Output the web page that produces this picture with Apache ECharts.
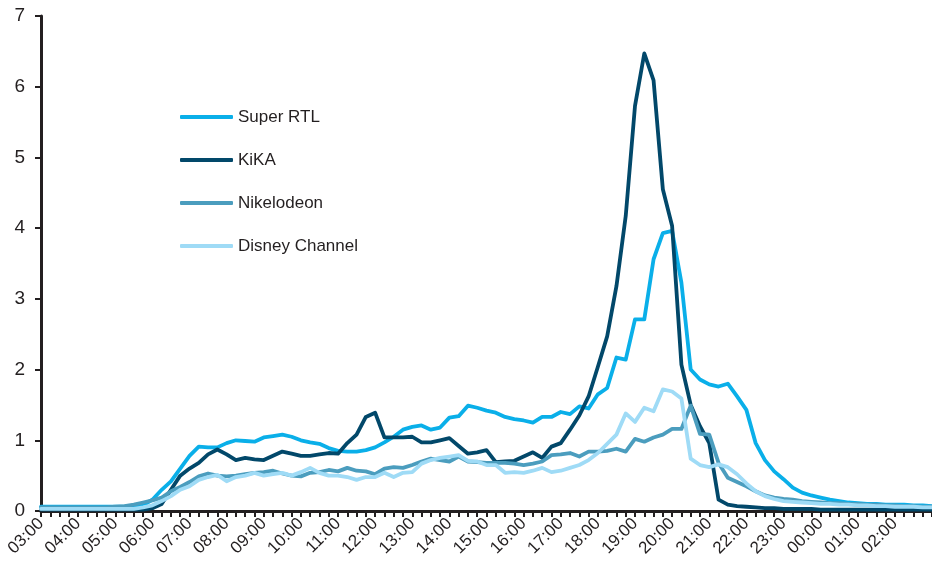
<!DOCTYPE html>
<html>
<head>
<meta charset="utf-8">
<script src="https://cdn.jsdelivr.net/npm/echarts@6/dist/echarts.min.js"></script>
<style>
  html, body { margin: 0; padding: 0; background: #fff; }
  #chart { width: 932px; height: 568px; }
</style>
</head>
<body>
<div id="chart"></div>
<script>
// quarter-hour slots from 03:00 to 03:00 next day
const timeLabels = []
for (let i = 0; i <= 96; i++) {
  const h = (3 + Math.floor(i / 4)) % 24
  const m = (i % 4) * 15
  timeLabels.push(String(h).padStart(2, '0') + ':' + String(m).padStart(2, '0'))
}

const seriesNames = ['Super RTL', 'KiKA', 'Nikelodeon', 'Disney Channel']

const superRtl = [
  0.06, 0.06, 0.06, 0.06, 0.06, 0.06, 0.06, 0.06, 0.06, 0.06, 0.06, 0.08,
  0.16, 0.3, 0.42, 0.6, 0.78, 0.91, 0.9, 0.9, 0.96, 1.0, 0.99, 0.98,
  1.04, 1.06, 1.08, 1.05, 1.0, 0.97, 0.95, 0.89, 0.85, 0.84, 0.84, 0.86,
  0.9, 0.97, 1.05, 1.15, 1.19, 1.21, 1.15, 1.18, 1.32, 1.34, 1.49, 1.46,
  1.42, 1.39, 1.33, 1.3, 1.28, 1.25, 1.33, 1.33, 1.4, 1.37, 1.48, 1.45,
  1.65, 1.74, 2.17, 2.14, 2.71, 2.71, 3.56, 3.93, 3.96, 3.23, 2.0, 1.86,
  1.79, 1.76, 1.8, 1.62, 1.43, 0.96, 0.72, 0.56, 0.45, 0.33, 0.26, 0.22,
  0.19, 0.16, 0.14, 0.12, 0.11, 0.1, 0.1, 0.09, 0.09, 0.09, 0.08, 0.08,
  0.07
]

const kika = [
  0.02, 0.02, 0.02, 0.02, 0.02, 0.02, 0.02, 0.02, 0.02, 0.02, 0.02, 0.02,
  0.04, 0.1, 0.3, 0.5, 0.6, 0.68, 0.8, 0.87, 0.8, 0.72, 0.75, 0.73,
  0.72, 0.78, 0.84, 0.81, 0.78, 0.78, 0.8, 0.82, 0.81, 0.96, 1.08, 1.33,
  1.39, 1.04, 1.04, 1.04, 1.05, 0.97, 0.97, 1.0, 1.03, 0.92, 0.81, 0.83,
  0.86, 0.69, 0.7, 0.71, 0.77, 0.83, 0.75, 0.91, 0.96, 1.15, 1.35, 1.62,
  2.04, 2.47, 3.18, 4.17, 5.73, 6.47, 6.09, 4.55, 4.03, 2.07, 1.5, 1.2,
  0.96, 0.16, 0.09, 0.07, 0.06, 0.05, 0.04, 0.04, 0.03, 0.03, 0.03, 0.03,
  0.02, 0.02, 0.02, 0.02, 0.02, 0.02, 0.02, 0.02, 0.02, 0.02, 0.02, 0.02,
  0.02
]

const nikelodeon = [
  0.05, 0.05, 0.05, 0.05, 0.05, 0.05, 0.05, 0.05, 0.06, 0.07, 0.09, 0.12,
  0.15, 0.19, 0.28, 0.34, 0.41, 0.49, 0.53, 0.5, 0.49, 0.5, 0.52, 0.54,
  0.55, 0.57, 0.53, 0.5, 0.49, 0.54, 0.55, 0.58, 0.56, 0.61, 0.57, 0.56,
  0.52, 0.6, 0.62, 0.61, 0.65, 0.7, 0.74, 0.72, 0.7, 0.77, 0.7, 0.69,
  0.68, 0.68, 0.68, 0.67, 0.65, 0.67, 0.7, 0.79, 0.8, 0.82, 0.77, 0.84,
  0.84, 0.85, 0.88, 0.84, 1.02, 0.98, 1.04, 1.08, 1.16, 1.16, 1.49, 1.09,
  1.08, 0.68, 0.47, 0.41, 0.35, 0.28, 0.22, 0.19, 0.17, 0.16, 0.14, 0.13,
  0.12, 0.11, 0.11, 0.1, 0.1, 0.09, 0.09, 0.08, 0.08, 0.07, 0.07, 0.06,
  0.06
]

const disney = [
  0.03, 0.03, 0.03, 0.03, 0.03, 0.03, 0.03, 0.03, 0.03, 0.03, 0.03, 0.05,
  0.08, 0.14, 0.21, 0.3, 0.35, 0.44, 0.48, 0.51, 0.42, 0.48, 0.5, 0.54,
  0.5, 0.52, 0.54, 0.5, 0.55, 0.61, 0.54, 0.5, 0.5, 0.48, 0.44, 0.48,
  0.48, 0.54, 0.48, 0.54, 0.55, 0.67, 0.72, 0.75, 0.77, 0.79, 0.71, 0.7,
  0.65, 0.65, 0.54, 0.55, 0.54, 0.57, 0.61, 0.55, 0.57, 0.61, 0.65, 0.72,
  0.82, 0.95, 1.08, 1.38, 1.26, 1.46, 1.41, 1.72, 1.69, 1.59, 0.74, 0.65,
  0.62, 0.66, 0.62, 0.52, 0.39, 0.28, 0.21, 0.17, 0.14, 0.13, 0.12, 0.11,
  0.1, 0.1, 0.09, 0.09, 0.08, 0.08, 0.07, 0.07, 0.06, 0.06, 0.06, 0.05,
  0.05
]

const colors = ['#0aafe9', '#02486a', '#4b9dbe', '#9fdbf6']
const font = "'Liberation Sans Narrow', 'Arial Narrow', 'Liberation Sans', Arial, sans-serif"
const ink = '#231f20'

const chart = echarts.init(document.getElementById('chart'), null, { renderer: 'canvas' })

function makeLine(name, data, color) {
  return {
    name: name,
    type: 'line',
    data: data,
    symbol: 'none',
    smooth: false,
    lineStyle: { width: 3.8, color: color, cap: 'round', join: 'round' },
    itemStyle: { color: color }
  }
}

chart.setOption({
  animation: false,
  color: colors,
  grid: { left: 41, right: 0, top: 16, bottom: 57 },
  legend: {
    orient: 'vertical',
    left: 180,
    top: 107,
    padding: 0,
    itemWidth: 53,
    itemHeight: 4,
    itemGap: 23,
    icon: 'roundRect',
    data: seriesNames,
    textStyle: { fontFamily: font, fontSize: 17, color: ink, lineHeight: 20 }
  },
  xAxis: {
    type: 'category',
    boundaryGap: false,
    data: timeLabels,
    axisLine: { lineStyle: { color: ink, width: 3 } },
    axisTick: { show: true, interval: 0, length: 6, lineStyle: { color: ink, width: 2 } },
    axisLabel: {
      interval: (idx) => idx % 4 === 0 && idx < 96,
      rotate: 45,
      margin: 10,
      fontFamily: font,
      fontSize: 17,
      color: ink
    },
    splitLine: { show: false }
  },
  yAxis: {
    type: 'value',
    min: 0,
    max: 7,
    interval: 1,
    axisLine: { show: true, lineStyle: { color: ink, width: 3 } },
    axisTick: { show: true, length: 6, lineStyle: { color: ink, width: 2 } },
    axisLabel: { margin: 16, fontFamily: font, fontSize: 19, color: ink },
    splitLine: { show: false }
  },
  series: [
    makeLine(seriesNames[0], superRtl, colors[0]),
    makeLine(seriesNames[1], kika, colors[1]),
    makeLine(seriesNames[2], nikelodeon, colors[2]),
    makeLine(seriesNames[3], disney, colors[3])
  ]
})
</script>
</body>
</html>
